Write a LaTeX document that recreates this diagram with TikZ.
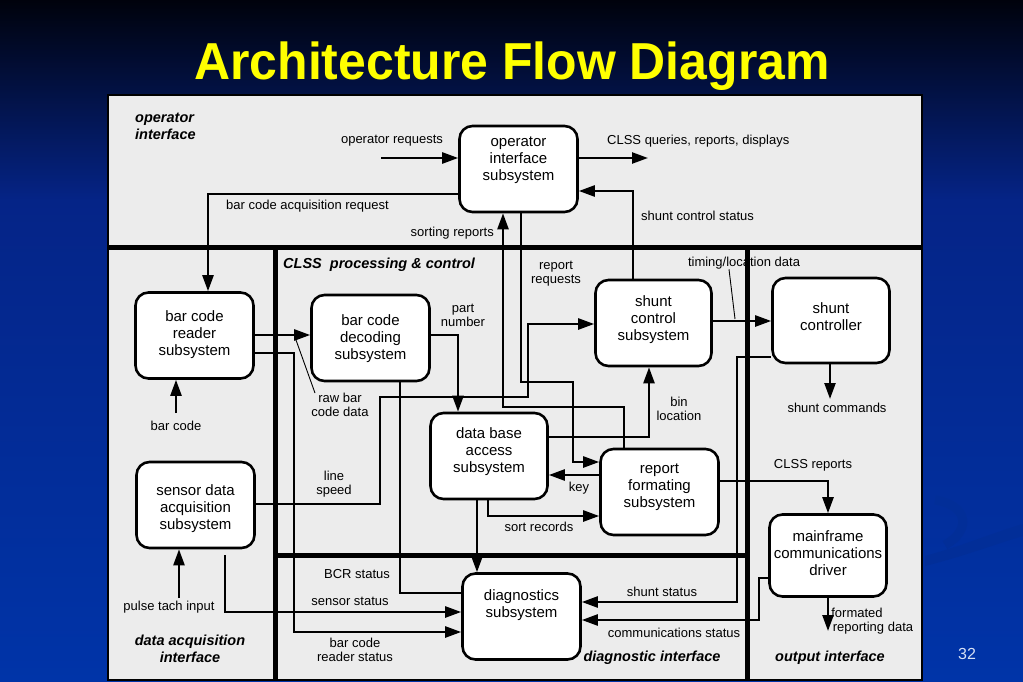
\documentclass[tikz,border=0pt]{standalone}
\usepackage{fontspec}
\setmainfont{Liberation Sans}
\usetikzlibrary{arrows.meta}
\definecolor{panel}{RGB}{236,236,236}
\definecolor{ttl}{RGB}{255,255,0}
\definecolor{bgA}{RGB}{0,2,12}
\definecolor{bgB}{RGB}{5,36,135}
\definecolor{bgC}{RGB}{0,52,168}
\definecolor{swoosh}{RGB}{2,46,152}
\definecolor{pgnum}{RGB}{215,225,245}
\newcommand\rz[2]{\raisebox{#1}[\height][\depth]{\begin{tabular}{@{}c@{}}#2\end{tabular}}}
\begin{document}
\begin{tikzpicture}[x=1pt,y=-1pt,
  box/.style={draw, line width=2.6pt, fill=white, rounded corners=13pt,
    minimum width=118pt, minimum height=86pt, inner sep=0pt, align=center,
    font=\fontsize{15}{17}\selectfont},
  conn/.style={line width=2.4pt},
  arr/.style={conn, -{Triangle[length=16pt,width=11pt]}},
  pointer/.style={line width=0.9pt},
  lbl/.style={align=center, inner sep=0pt, font=\fontsize{13}{14}\selectfont},
  region/.style={inner sep=0pt, font=\fontsize{14.5}{17}\selectfont\bfseries\itshape},
  divider/.style={line width=5pt}]
\useasboundingbox (0,0) rectangle (1023,682);
% background
\shade[top color=bgA, bottom color=bgB] (0,0) rectangle (1023,201);
\shade[top color=bgB, bottom color=bgC] (0,200) rectangle (1023,682);
\fill[swoosh] (925,556) .. controls (965,545) and (995,532) .. (1023,524) -- (1023,536) .. controls (995,544) and (965,556) .. (925,566) -- cycle;
\draw[swoosh, line width=9pt] (935,500) .. controls (968,505) and (972,530) .. (945,545);
% title
\node[anchor=base, font=\fontsize{52}{60}\selectfont\bfseries, text=ttl] (title) at (512,80) {\scalebox{0.96}[1]{Architecture Flow Diagram}};
\node[text=pgnum, font=\fontsize{16}{18}\selectfont] (pg) at (967,654) {32};
% panel
\draw[line width=2.5pt, fill=panel] (108,95) rectangle (922,680);
% labels
\node[lbl] (l1) at (392,141) {operator requests};
\node[lbl, anchor=west] (l2) at (607,141) {CLSS queries, reports, displays};
\node[lbl, anchor=west] (l3) at (641,216) {shunt control status};
\node[lbl, anchor=west] (l4) at (226,206) {bar code acquisition request};
\node[lbl, anchor=east] (l5) at (494,233) {sorting reports};
\node[lbl] (l6) at (556,274) {report\\requests};
\node[lbl] (l7) at (463,315) {part\\number};
\node[lbl] (l8) at (340,405) {raw bar\\code data};
\node[lbl] (l9) at (334,484) {line\\speed};
\node[lbl] (l10) at (357,574) {BCR status};
\node[lbl] (l11) at (350,601) {sensor status};
\node[lbl] (l12) at (355,650) {bar code\\reader status};
\node[lbl] (l13) at (176,426) {bar code};
\node[lbl] (l14) at (169,607) {pulse tach input};
\node[lbl] (l15) at (744,263) {timing/location data};
\node[lbl] (l16) at (679,409) {bin\\location};
\node[lbl] (l17) at (837,408) {shunt commands};
\node[lbl] (l18) at (579,488) {key};
\node[lbl] (l19) at (539,527) {sort records};
\node[lbl] (l20) at (813,465) {CLSS reports};
\node[lbl] (l21) at (662,592) {shunt status};
\node[lbl] (l22) at (674,633) {communications status};
\node[lbl] (l23) at (857,613) {formated};
\node[lbl] (l24) at (873,628) {reporting data};
% region labels
\node[region, anchor=west, align=left] (r1) at (135,126.5) {operator\\interface};
\node[region, anchor=west] (r2) at (283,265) {CLSS\ \ processing \& control};
\node[region, align=center] (r3) at (190,648.5) {data acquisition\\interface};
\node[region] (r4) at (652,658) {diagnostic interface};
\node[region] (r5) at (830,658) {output interface};
% dividers
\draw[divider] (108,247) -- (922,247);
\draw[divider] (275,247) -- (275,680);
\draw[divider] (747,247) -- (747,680);
\draw[divider] (275,555) -- (747,555);
% boxes
\node[box] (oi) at (518.5,169) {\rz{9pt}{operator\\interface\\subsystem}};
\node[box] (bcr) at (194.5,335.5) {\rz{0pt}{bar code\\reader\\subsystem}};
\node[box] (bcd) at (370.5,338) {\rz{-1pt}{bar code\\decoding\\subsystem}};
\node[box, minimum width=116pt] (scs) at (653.5,323) {\rz{3pt}{shunt\\control\\subsystem}};
\node[box, minimum width=117pt, minimum height=85pt] (sc) at (831,320.5) {\rz{2pt}{shunt\\controller}};
\node[box, minimum width=117pt] (dba) at (489,456) {\rz{4pt}{data base\\access\\subsystem}};
\node[box] (rfs) at (659.5,492) {\rz{5pt}{report\\formating\\subsystem}};
\node[box] (sda) at (195.5,505) {\rz{-4pt}{sensor data\\acquisition\\subsystem}};
\node[box] (diag) at (521.5,616.5) {\rz{11pt}{diagnostics\\subsystem}};
\node[box, minimum width=117pt, minimum height=82pt] (mcd) at (828,555.5) {\rz{0pt}{mainframe\\communications\\driver}};
% free ends
\coordinate (oreq) at (381,158);
\coordinate (cq) at (648,158);
\coordinate (scmd) at (830,399);
\coordinate (fmt) at (828,631);
\coordinate (bcin) at (176,413);
\coordinate (ptin) at (179,598);
\coordinate (ssin) at (225,555);
% connectors
\draw[arr] (oreq) -- (oreq -| oi.west);
\draw[arr] (cq -| oi.east) -- (cq);
\draw[arr] (scs.north -| 633,0) |- (oi.east |- 0,191);
\draw[arr] (oi.west |- 0,194) -| (bcr.north -| 208,0);
\draw[arr] (rfs.north -| 624,0) |- (503,407) -- (oi.south -| 503,0);
\draw[arr] (oi.south -| 521,0) |- (573,382) |- (rfs.west |- 0,462);
\draw[arr] (sda.east |- 0,504) -| (380,397) -| (528,324) -- (scs.west |- 0,324);
\draw[arr] (bcr.east |- 0,335) -- (bcd.west |- 0,335);
\draw[arr] (bcd.east |- 0,335) -| (dba.north -| 458,0);
\draw[arr] (bcr.east |- 0,353) -| (294,632) -- (diag.west |- 0,632);
\draw[conn] (bcd.south -| 400,0) |- (diag.west |- 0,593);
\draw[arr] (ssin) |- (diag.west |- 0,612);
\draw[arr] (dba.south -| 477,0) -- (diag.north -| 477,0);
\draw[arr] (dba.east |- 0,437) -| (scs.south -| 649,0);
\draw[arr] (rfs.west |- 0,475) -- (dba.east |- 0,475);
\draw[arr] (dba.south -| 488,0) |- (rfs.west |- 0,516);
\draw[arr] (scs.east |- 0,321) -- (sc.west |- 0,321);
\draw[arr] (sc.south -| scmd) -- (scmd);
\draw[arr] (sc.west |- 0,357) -| (737,602) -- (diag.east |- 0,602);
\draw[arr] (mcd.west |- 0,578) -| (759,620) -- (diag.east |- 0,620);
\draw[arr] (rfs.east |- 0,481) -| (mcd.north -| 828,0);
\draw[arr] (mcd.south -| fmt) -- (fmt);
\draw[arr] (bcin) -- (bcr.south -| bcin);
\draw[arr] (ptin) -- (sda.south -| ptin);
% label pointers
\draw[pointer] (l15.south -| 729,0) -- (735,319);
\draw[pointer] (l8.north -| 315,0) -- (296,340);
\end{tikzpicture}
\end{document}
